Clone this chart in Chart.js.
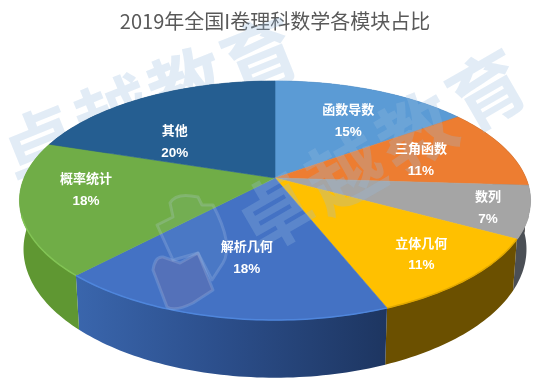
<!DOCTYPE html>
<html>
<head>
<meta charset="utf-8">
<style>
  html, body { margin: 0; padding: 0; background: #fff; }
  #wrap { width: 550px; height: 391px; }
</style>
<script src="https://cdn.jsdelivr.net/npm/chart.js@4"></script>
</head>
<body>
<div id="wrap"><canvas id="chart" width="550" height="391"></canvas></div>
<script>
var titleText = '2019年全国I卷理科数学各模块占比';
var categories = ['函数导数', '三角函数', '数列', '立体几何', '解析几何', '概率统计', '其他'];
var values = [15, 11, 7, 11, 18, 18, 20];

var topColors = ['#5B9BD5', '#ED7D31', '#A5A5A5', '#FFC000', '#4472C4', '#70AD47', '#255E91'];
var wallColors = ['#35618a', '#5a4030', '#4b4f55', '#6b5000', '#2f5597', '#5f9732', '#1c3f63'];
var rimColors = ['#5B9BD5', '#ED7D31', '#A5A5A5', '#e0a800', '#4f86dc', '#82c455', '#255E91'];

// where each label sits on the disk: radius fraction, degrees off the slice middle
var labelRadius = [0.636, 0.62, 0.846, 0.784, 0.622, 0.746, 0.538];
var labelShift = [3.4, 1.2, 0.8, 0, -1.6, 6.5, -16];

// perspective view of the disk, top face and bottom face
var tilt = 0.188;
var topFace = { y: 178, rx: 251, ry: 115.3 };
var bottomFace = { y: 225, rx: 247, ry: 124 };

function project(face, cx, a, r) {
  var u = Math.cos(a) * r, v = Math.sin(a) * r;
  var w = 1 - tilt * v;
  return { x: cx + face.rx * u / w, y: face.y + face.ry * v / w };
}

function traceEdge(ctx, face, cx, from, to, move) {
  var steps = Math.max(2, Math.ceil(Math.abs(to - from) / 0.02));
  for (var i = 0; i <= steps; i++) {
    var p = project(face, cx, from + (to - from) * i / steps, 1);
    if (i === 0 && move) ctx.moveTo(p.x, p.y);
    else ctx.lineTo(p.x, p.y);
  }
}

var pie3d = {
  id: 'pie3d',
  beforeDatasetsDraw: function (chart) {
    var ctx = chart.ctx;
    var arcs = chart.getDatasetMeta(0).data;
    var cx = arcs[0].x;

    // the upper watermark row lies behind the pie
    drawRow(ctx, 152, 100, -22, 3);

    ctx.save();
    // side wall first, the top face covers whatever is behind it
    arcs.forEach(function (arc, i) {
      var grad = ctx.createLinearGradient(75, 0, 390, 0);
      if (i === 4) {
        grad.addColorStop(0, '#3a66ad');
        grad.addColorStop(0.45, '#2c4f8c');
        grad.addColorStop(1, '#1d3560');
      }
      ctx.beginPath();
      traceEdge(ctx, topFace, cx, arc.startAngle, arc.endAngle, true);
      traceEdge(ctx, bottomFace, cx, arc.endAngle, arc.startAngle, false);
      ctx.closePath();
      ctx.fillStyle = i === 4 ? grad : wallColors[i];
      ctx.fill();
    });
    // top face
    arcs.forEach(function (arc, i) {
      ctx.beginPath();
      ctx.moveTo(cx, topFace.y);
      traceEdge(ctx, topFace, cx, arc.startAngle, arc.endAngle, false);
      ctx.closePath();
      ctx.fillStyle = topColors[i];
      ctx.fill();
      ctx.strokeStyle = topColors[i];
      ctx.lineWidth = 0.6;
      ctx.stroke();
    });
    // lit rim, only on the front of the edge
    arcs.forEach(function (arc, i) {
      var from = Math.max(arc.startAngle, 0.1 * Math.PI);
      var to = Math.min(arc.endAngle, 0.9 * Math.PI);
      if (to <= from) return;
      ctx.beginPath();
      traceEdge(ctx, topFace, cx, from, to, true);
      ctx.strokeStyle = rimColors[i];
      ctx.lineWidth = 1.5;
      ctx.stroke();
    });
    ctx.restore();
    return false;
  },
  afterDraw: function (chart) {
    var ctx = chart.ctx;
    var arcs = chart.getDatasetMeta(0).data;
    var cx = arcs[0].x;

    drawRow(ctx, 383, 150, -30, 6);
    drawLogo(ctx);

    ctx.save();
    ctx.textAlign = 'center';
    ctx.textBaseline = 'middle';
    ctx.fillStyle = '#ffffff';
    arcs.forEach(function (arc, i) {
      var mid = (arc.startAngle + arc.endAngle) / 2 + labelShift[i] * Math.PI / 180;
      var p = project(topFace, cx, mid, labelRadius[i]);
      ctx.font = 'bold 13px "Noto Sans CJK SC"';
      ctx.fillText(categories[i], p.x, p.y - 11.5);
      ctx.font = 'bold 13.5px "Liberation Sans"';
      ctx.fillText(values[i] + '%', p.x, p.y + 11.5);
    });
    ctx.restore();
  }
};

function drawRow(ctx, x, y, deg, spacing) {
  ctx.save();
  ctx.fillStyle = 'rgba(150,185,222,0.28)';
  ctx.textAlign = 'center';
  ctx.textBaseline = 'middle';
  ctx.translate(x, y);
  ctx.rotate(deg * Math.PI / 180);
  ctx.font = 'bold 76px "Noto Sans CJK SC"';
  ctx.letterSpacing = spacing + 'px';
  ctx.fillText('卓越教育', 0, 0);
  ctx.restore();
}

function drawLogo(ctx) {
  ctx.save();
  ctx.lineWidth = 3;
  ctx.lineJoin = 'round';
  ctx.strokeStyle = 'rgba(190,210,235,0.22)';
  ctx.fillStyle = 'rgba(150,185,222,0.08)';
  ctx.beginPath();
  ctx.moveTo(170, 203);
  ctx.quadraticCurveTo(176, 192, 198, 197);
  ctx.lineTo(202, 205);
  ctx.lineTo(213, 205);
  ctx.quadraticCurveTo(234, 245, 223, 263);
  ctx.lineTo(212, 280);
  ctx.lineTo(198, 253);
  ctx.lineTo(173, 260);
  ctx.lineTo(157, 225);
  ctx.lineTo(173, 217);
  ctx.closePath();
  ctx.fill();
  ctx.stroke();

  ctx.fillStyle = 'rgba(170,110,130,0.16)';
  ctx.beginPath();
  ctx.moveTo(153, 270);
  ctx.quadraticCurveTo(155, 256, 163, 257);
  ctx.lineTo(180, 263);
  ctx.lineTo(198, 253);
  ctx.lineTo(213, 290);
  ctx.lineTo(193, 303);
  ctx.quadraticCurveTo(175, 312, 167, 307);
  ctx.closePath();
  ctx.fill();
  ctx.stroke();
  ctx.restore();
}

var config = {
  type: 'pie',
  data: {
    labels: categories,
    datasets: [{
      data: values,
      backgroundColor: topColors,
      borderWidth: 0
    }]
  },
  options: {
    responsive: false,
    animation: false,
    layout: { padding: 0 },
    plugins: {
      legend: { display: false },
      tooltip: { enabled: false },
      title: {
        display: true,
        text: titleText,
        color: '#595959',
        font: { family: '"Noto Sans CJK SC"', size: 20, weight: 'normal' },
        padding: { top: 9, bottom: 8 }
      }
    }
  },
  plugins: [pie3d]
};

window.myChart = new Chart(document.getElementById('chart'), config);
</script>
</body>
</html>
